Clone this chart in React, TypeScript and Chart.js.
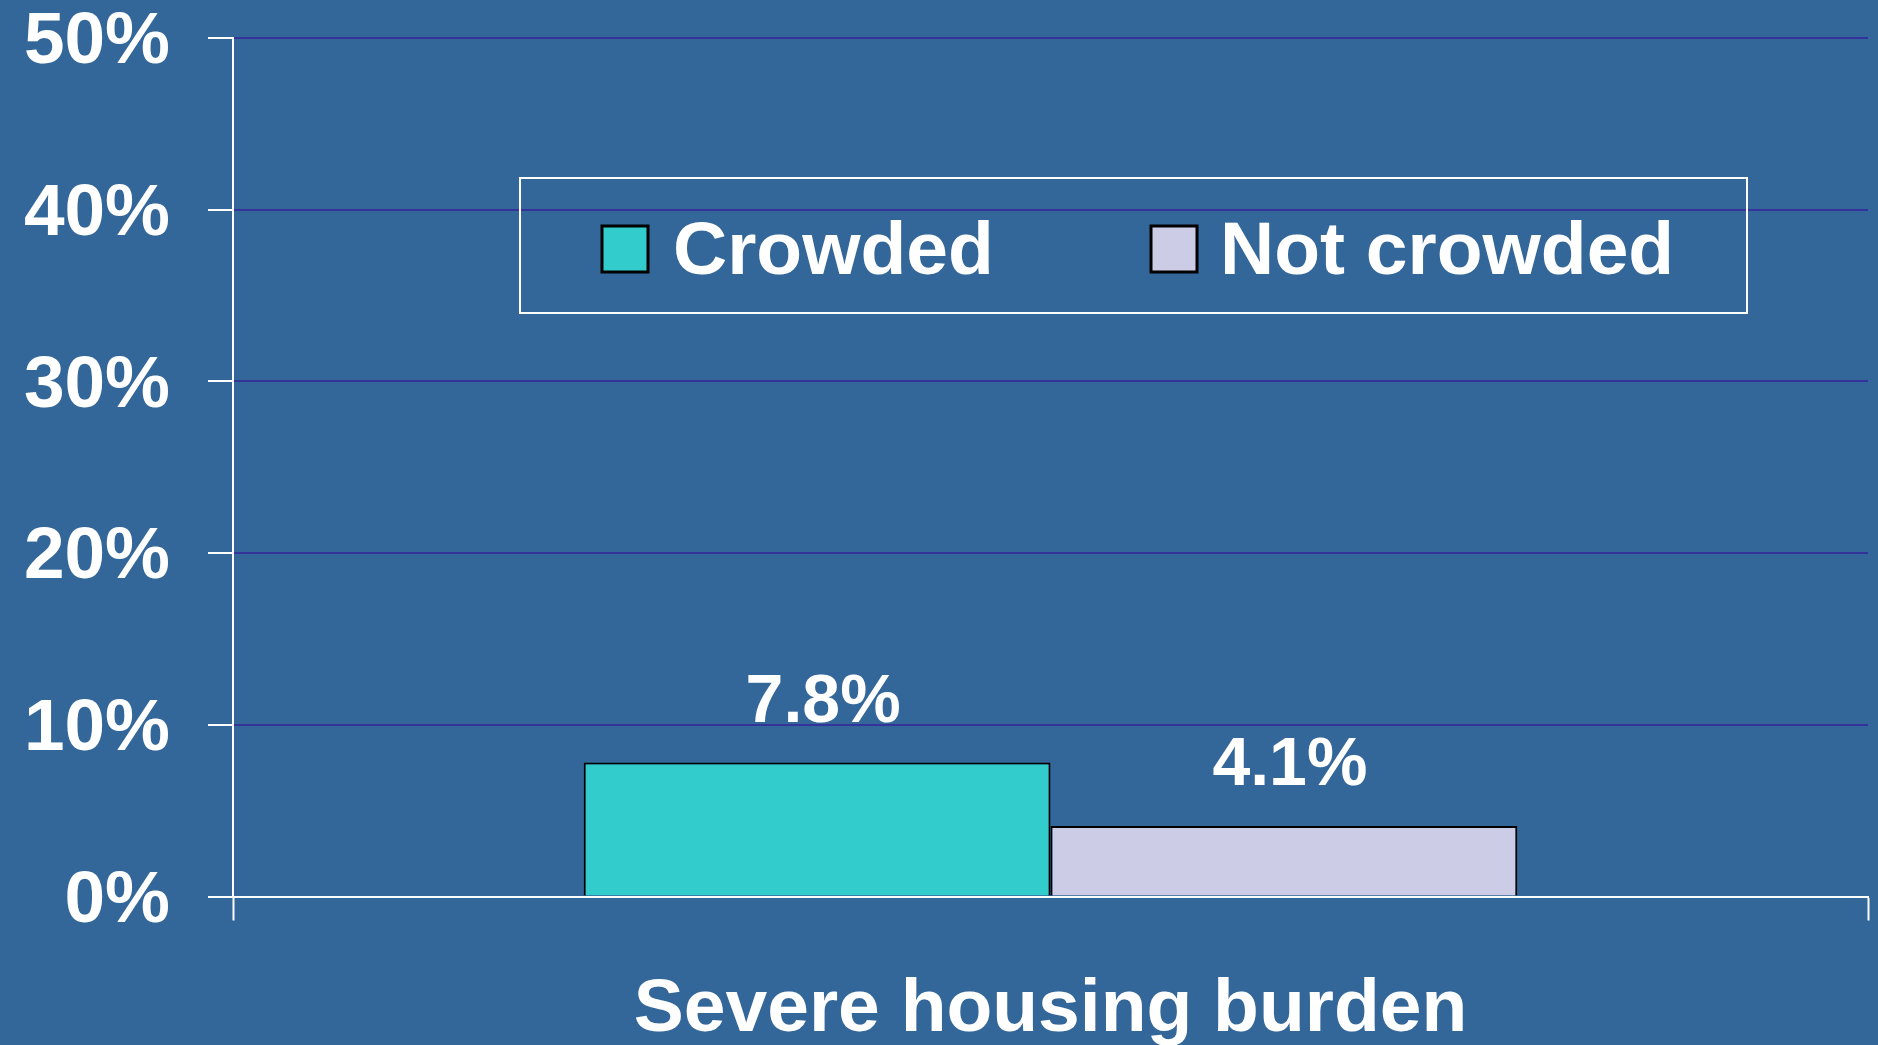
import React, { useEffect, useRef } from "react";
import { Chart, registerables } from "chart.js";

Chart.register(...registerables);

const categories = ["Severe housing burden"];
const seriesNames = ["Crowded", "Not crowded"];
const crowdedValues = [7.8];
const notCrowdedValues = [4.1];
const yTicks = [0, 10, 20, 30, 40, 50];

const FONT = "'Liberation Sans', Arial, sans-serif";
const BG = "#336699";

const bgPlugin = {
  id: "bgFill",
  beforeDraw(chart: any) {
    const { ctx, width, height } = chart;
    ctx.save();
    ctx.fillStyle = BG;
    ctx.fillRect(0, 0, width, height);
    ctx.restore();
  },
};

const valueLabelPlugin = {
  id: "valueLabels",
  afterDatasetsDraw(chart: any) {
    const { ctx } = chart;
    ctx.save();
    ctx.fillStyle = "#ffffff";
    ctx.font = `bold 68px ${FONT}`;
    ctx.textAlign = "center";
    ctx.textBaseline = "alphabetic";
    chart.data.datasets.forEach((ds: any, i: number) => {
      const meta = chart.getDatasetMeta(i);
      meta.data.forEach((bar: any, j: number) => {
        const v = ds.data[j];
        ctx.fillText(`${v.toFixed(1)}%`, bar.x + 6, bar.y - 41);
      });
    });
    ctx.restore();
  },
};

const legendPlugin = {
  id: "boxLegend",
  afterDraw(chart: any) {
    const { ctx } = chart;
    ctx.save();
    ctx.strokeStyle = "#ffffff";
    ctx.lineWidth = 2;
    ctx.strokeRect(520, 178, 1227, 135);
    const swatchX = [602, 1151];
    const textX = [673, 1220];
    ctx.font = `bold 75px ${FONT}`;
    ctx.textAlign = "left";
    ctx.textBaseline = "alphabetic";
    chart.data.datasets.forEach((ds: any, i: number) => {
      ctx.fillStyle = ds.backgroundColor;
      ctx.fillRect(swatchX[i], 226, 46, 46);
      ctx.strokeStyle = "#000000";
      ctx.lineWidth = 3;
      ctx.strokeRect(swatchX[i], 226, 46, 46);
      ctx.fillStyle = "#ffffff";
      ctx.fillText(ds.label, textX[i], 274);
    });
    ctx.restore();
  },
};

export default function App() {
  const canvasRef = useRef<HTMLCanvasElement | null>(null);

  useEffect(() => {
    document.body.style.margin = "0";
    document.body.style.background = BG;
    const canvas = canvasRef.current;
    if (!canvas) return;
    const chart = new Chart(canvas, {
      type: "bar",
      data: {
        labels: categories,
        datasets: [
          {
            label: seriesNames[0],
            data: crowdedValues,
            backgroundColor: "#33CCCC",
            borderColor: "#000000",
            borderWidth: 2,
          },
          {
            label: seriesNames[1],
            data: notCrowdedValues,
            backgroundColor: "#CCCCE6",
            borderColor: "#000000",
            borderWidth: 2,
          },
        ],
      },
      options: {
        animation: false,
        responsive: false,
        maintainAspectRatio: false,
        datasets: {
          bar: { categoryPercentage: 0.571, barPercentage: 1 },
        },
        layout: { padding: { top: 38, right: 10, left: 0, bottom: 0 } },
        plugins: {
          legend: { display: false },
          tooltip: { enabled: false },
          title: { display: false },
        },
        scales: {
          x: {
            grid: {
              display: true,
              offset: true,
              drawOnChartArea: false,
              drawTicks: true,
              tickLength: 24,
              tickColor: "#ffffff",
              tickWidth: 2,
              color: "#ffffff",
            },
            border: { display: true, color: "#ffffff", width: 2 },
            ticks: {
              color: "#ffffff",
              font: { family: FONT, size: 75, weight: "bold", lineHeight: 1.0 },
              padding: 52,
              maxRotation: 0,
            },
            afterFit(scale: any) {
              scale.height = 148.5;
              scale.paddingLeft = 0;
              scale.paddingRight = 0;
            },
          },
          y: {
            min: 0,
            max: 50,
            afterBuildTicks(scale: any) {
              scale.ticks = yTicks.map((v) => ({ value: v }));
            },
            grid: {
              display: true,
              drawTicks: true,
              tickLength: 25,
              tickColor: "#ffffff",
              tickWidth: 2,
              lineWidth: 2,
              color: (c: any) => (c.tick && c.tick.value === 0 ? "#ffffff" : "#333399"),
            },
            border: { display: true, color: "#ffffff", width: 2 },
            ticks: {
              color: "#ffffff",
              font: { family: FONT, size: 73, weight: "bold", lineHeight: 1.0 },
              padding: 38,
              labelOffset: 5,
              callback: (v: any) => `${v}%`,
            },
            afterFit(scale: any) {
              scale.width = 233;
              scale.paddingTop = 0;
              scale.paddingBottom = 0;
            },
          },
        },
      },
      plugins: [bgPlugin, valueLabelPlugin, legendPlugin],
    });
    return () => chart.destroy();
  }, []);

  return (
    <div style={{ width: 1878, height: 1045, background: BG }}>
      <canvas ref={canvasRef} width={1878} height={1045} style={{ display: "block" }} />
    </div>
  );
}
